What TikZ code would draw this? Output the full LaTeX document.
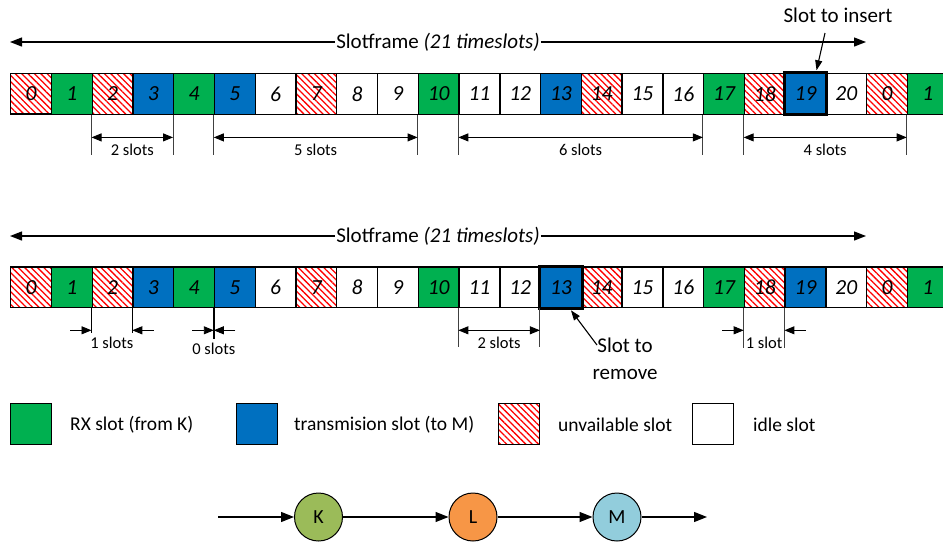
\documentclass[tikz,border=0pt]{standalone}
\usepackage{fontspec}
\setmainfont{Carlito}
\usetikzlibrary{arrows.meta,patterns.meta,calc}

\definecolor{rxgreen}{HTML}{00B050}
\definecolor{txblue}{HTML}{0070C0}
\definecolor{nodeK}{HTML}{9BBB59}
\definecolor{nodeL}{HTML}{F79646}
\definecolor{nodeM}{HTML}{92CDDC}

\tikzset{
  slotbox/.style={draw=black, line width=1.4pt, minimum width=40.76pt,
    minimum height=40.7pt, inner sep=0pt, anchor=north west,
    font=\fontsize{21.5}{24}\selectfont\itshape},
  slotrx/.style={slotbox, fill=rxgreen},
  slottx/.style={slotbox, fill=txblue},
  slotna/.style={slotbox, pattern={Lines[angle=-45,distance=4.5pt,line width=1.3pt]}, pattern color=red},
  slotidle/.style={slotbox, fill=white},
  picked/.style={draw=black, line width=3pt},
  extline/.style={draw=black!75, line width=0.9pt},
  dimarrow/.style={line width=0.9pt, {Triangle[length=10pt,width=8pt]}-{Triangle[length=10pt,width=8pt]}},
  dimin/.style={line width=0.9pt, -{Triangle[length=10pt,width=8pt]}},
  dimlbl/.style={font=\fontsize{16.5}{19}\selectfont, inner sep=1pt},
  framelbl/.style={font=\fontsize{21}{24}\selectfont, inner sep=1pt},
  framearrow/.style={line width=1.3pt, -{Triangle[length=12pt,width=9pt]}},
  callout/.style={font=\fontsize{21}{27}\selectfont, align=center, inner sep=0pt},
  calloutarrow/.style={line width=1.1pt, -{Triangle[length=10pt,width=7pt]}},
  legbox/.style={draw=black, line width=1.2pt, minimum width=41pt, minimum height=41pt,
    inner sep=0pt, anchor=north west},
  legtext/.style={font=\fontsize{19.5}{22}\selectfont, anchor=west, inner sep=0pt},
  mote/.style={circle, draw=black, line width=1pt, minimum size=48pt, inner sep=0pt,
    font=\fontsize{20}{24}\selectfont},
  linkarrow/.style={line width=1.3pt, -{Triangle[length=13pt,width=10pt]}}
}

\begin{document}
\begin{tikzpicture}[x=1pt,y=-1pt]
\fill[white] (0,0) rectangle (943,542);
\clip (0,0) rectangle (943,542);

% ---------- first schedule ----------
\coordinate (sfaL) at (10,42);
\coordinate (sfaR) at (866,42);
\node[framelbl] (sfa) at (438,42) {Slotframe \textit{(21 timeslots)}};
\draw[framearrow] (sfa.west) -- (sfaL);
\draw[framearrow] (sfa.east) -- (sfaR);

\foreach \i/\s/\n in {0/slotna/0,1/slotrx/1,2/slotna/2,3/slottx/3,4/slotrx/4,5/slottx/5,
  6/slotidle/6,7/slotna/7,8/slotidle/8,9/slotidle/9,10/slotrx/10,11/slotidle/11,
  12/slotidle/12,13/slottx/13,14/slotna/14,15/slotidle/15,16/slotidle/16,17/slotrx/17,
  18/slotna/18,19/slottx/19,20/slotidle/20,21/slotna/0,22/slotrx/1}
  \node[\s] (a\i) at ({10+\i*40.76},72.8) {\n};
\draw[picked] (a19.north west) rectangle (a19.south east);

\node[callout] (ins) at (838,15) {Slot to insert};
\coordinate (insA) at (825,33);
\draw[calloutarrow] (insA) -- ([xshift=11pt,yshift=2.5pt]a19.north);

% gaps between receptions
\foreach \p/\q/\t in {2/4/2 slots,5/10/5 slots,11/17/6 slots,18/22/4 slots}{
  \draw[extline] (a\p.south west) -- ++(0,40);
  \draw[extline] (a\q.south west) -- ++(0,40);
  \draw[dimarrow] ($(a\p.south west)+(0,22.5)$) -- ($(a\q.south west)+(0,22.5)$);
  \node[dimlbl] at ($(a\p.south west)!0.5!(a\q.south west)+(0,35)$) {\t};
}

% ---------- second schedule ----------
\coordinate (sfbL) at (10,236);
\coordinate (sfbR) at (866,236);
\node[framelbl] (sfb) at (438,236) {Slotframe \textit{(21 timeslots)}};
\draw[framearrow] (sfb.west) -- (sfbL);
\draw[framearrow] (sfb.east) -- (sfbR);

\foreach \i/\s/\n in {0/slotna/0,1/slotrx/1,2/slotna/2,3/slottx/3,4/slotrx/4,5/slottx/5,
  6/slotidle/6,7/slotna/7,8/slotidle/8,9/slotidle/9,10/slotrx/10,11/slotidle/11,
  12/slotidle/12,13/slottx/13,14/slotna/14,15/slotidle/15,16/slotidle/16,17/slotrx/17,
  18/slotna/18,19/slottx/19,20/slotidle/20,21/slotna/0,22/slotrx/1}
  \node[\s] (b\i) at ({10+\i*40.76},266.2) {\n};
\draw[picked] (b13.north west) rectangle (b13.south east);

\node[callout] (rem) at (625,359) {Slot to\\remove};
\coordinate (remA) at (597,345);
\draw[calloutarrow] (remA) -- ([xshift=10pt,yshift=-2pt]b13.south);

% one slot after 1
\draw[extline, draw=black] (b2.south west) -- ++(0,25);
\draw[extline, draw=black] (b3.south west) -- ++(0,25);
\coordinate (g1a) at ($(b2.south west)+(-21.5,22)$);
\coordinate (g1b) at ($(b3.south west)+(21.5,22)$);
\draw[dimin] (g1a) -- ($(b2.south west)+(0,22)$);
\draw[dimin] (g1b) -- ($(b3.south west)+(0,22)$);
\node[dimlbl] at ($(b2.south west)!0.5!(b3.south west)+(0,35)$) {1 slots};

% no slot after 4
\draw[line width=1.8pt] (b5.south west) -- ++(0,31);
\coordinate (g0a) at ($(b5.south west)+(-21.5,22)$);
\coordinate (g0b) at ($(b5.south west)+(21.5,22)$);
\draw[dimin] (g0a) -- ($(b5.south west)+(0,22)$);
\draw[dimin] (g0b) -- ($(b5.south west)+(0,22)$);
\node[dimlbl] at ($(b5.south west)+(0,41)$) {0 slots};

% two slots after 10
\draw[extline] (b11.south west) -- ++(0,39);
\draw[extline] (b13.south west) -- ++(0,39);
\draw[dimarrow] ($(b11.south west)+(0,22)$) -- ($(b13.south west)+(0,22)$);
\node[dimlbl] at ($(b11.south west)!0.5!(b13.south west)+(0,35)$) {2 slots};

% one slot after 17
\draw[extline] (b18.south west) -- ++(0,40);
\draw[extline] (b19.south west) -- ++(0,40);
\coordinate (g2a) at ($(b18.south west)+(-21.5,22)$);
\coordinate (g2b) at ($(b19.south west)+(21.5,22)$);
\draw[dimin] (g2a) -- ($(b18.south west)+(0,22)$);
\draw[dimin] (g2b) -- ($(b19.south west)+(0,22)$);
\node[dimlbl] at ($(b18.south west)!0.5!(b19.south west)+(0,35)$) {1 slot};

% ---------- legend ----------
\node[legbox, fill=rxgreen] (lg1) at (10,403) {};
\node[legtext] (lt1) at (70,425) {RX slot (from K)};
\node[legbox, fill=txblue] (lg2) at (236,403) {};
\node[legtext] (lt2) at (294,425) {transmision slot (to M)};
\node[legbox, pattern={Lines[angle=-45,distance=4.5pt,line width=1.3pt]}, pattern color=red] (lg3) at (498,403) {};
\node[legtext] (lt3) at (558,425) {unvailable slot};
\node[legbox, fill=white] (lg4) at (692,403) {};
\node[legtext] (lt4) at (753,425) {idle slot};

% ---------- topology ----------
\coordinate (inK) at (218,517);
\node[mote, fill=nodeK] (K) at (318.5,517) {K};
\node[mote, fill=nodeL] (L) at (473,517) {L};
\node[mote, fill=nodeM] (M) at (617,517) {M};
\coordinate (outM) at (707,517);
\draw[linkarrow] (inK) -- (K);
\draw[linkarrow] (K) -- (L);
\draw[linkarrow] (L) -- (M);
\draw[linkarrow] (M) -- (outM);
\end{tikzpicture}
\end{document}
